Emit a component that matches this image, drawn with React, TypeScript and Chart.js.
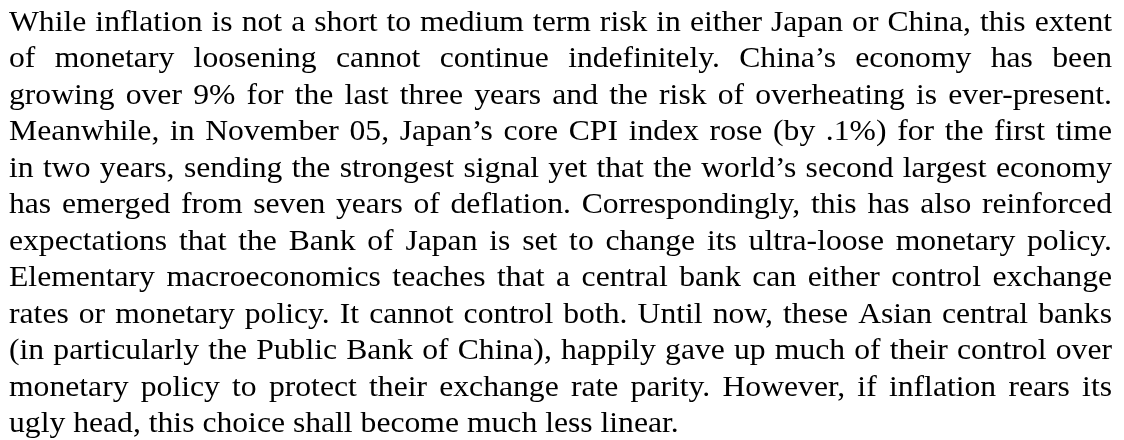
import React, { useEffect, useRef } from "react";
import { Chart, registerables } from "chart.js";

Chart.register(...registerables);

const paragraphLines: string[] = [
  "While inflation is not a short to medium term risk in either Japan or China, this extent",
  "of monetary loosening cannot continue indefinitely. China’s economy has been",
  "growing over 9% for the last three years and the risk of overheating is ever-present.",
  "Meanwhile, in November 05, Japan’s core CPI index rose (by .1%) for the first time",
  "in two years, sending the strongest signal yet that the world’s second largest economy",
  "has emerged from seven years of deflation. Correspondingly, this has also reinforced",
  "expectations that the Bank of Japan is set to change its ultra-loose monetary policy.",
  "Elementary macroeconomics teaches that a central bank can either control exchange",
  "rates or monetary policy. It cannot control both. Until now, these Asian central banks",
  "(in particularly the Public Bank of China), happily gave up much of their control over",
  "monetary policy to protect their exchange rate parity. However, if inflation rears its",
  "ugly head, this choice shall become much less linear.",
];

const W = 1124;
const H = 440;
const FONT_SIZE = 30;
const H_SCALE = 1.055;
const LEFT = 9;
const RIGHT = 1112;
const FIRST_BASELINE = 30.5;
const LINE_HEIGHT = 36.5;

const justifiedTextPlugin = {
  id: "justifiedText",
  afterDraw(chart: any) {
    const ctx: CanvasRenderingContext2D = chart.ctx;
    ctx.save();
    ctx.fillStyle = "#000000";
    ctx.font = `${FONT_SIZE}px "Liberation Serif", "Times New Roman", serif`;
    ctx.textBaseline = "alphabetic";
    ctx.textAlign = "left";
    const width = RIGHT - LEFT;
    const mw = (s: string) => ctx.measureText(s).width * H_SCALE;
    const draw = (s: string, x: number, y: number) => {
      ctx.save();
      ctx.translate(x, y);
      ctx.scale(H_SCALE, 1);
      ctx.fillText(s, 0, 0);
      ctx.restore();
    };
    paragraphLines.forEach((line, i) => {
      const y = FIRST_BASELINE + i * LINE_HEIGHT;
      const words = line.split(" ");
      const isLast = i === paragraphLines.length - 1;
      if (isLast || words.length < 2) {
        draw(line, LEFT, y);
        return;
      }
      const total = words.reduce((s, w) => s + mw(w), 0);
      const gap = (width - total) / (words.length - 1);
      let x = LEFT;
      words.forEach((w) => {
        draw(w, x, y);
        x += mw(w) + gap;
      });
    });
    ctx.restore();
  },
};

export default function App() {
  const canvasRef = useRef<HTMLCanvasElement | null>(null);

  useEffect(() => {
    document.body.style.margin = "0";
    document.body.style.background = "#ffffff";
    const canvas = canvasRef.current;
    if (!canvas) return;
    const chart = new Chart(canvas, {
      type: "scatter",
      data: { datasets: [] },
      options: {
        animation: false,
        responsive: false,
        devicePixelRatio: 1,
        layout: { padding: 0 },
        plugins: {
          legend: { display: false },
          tooltip: { enabled: false },
          title: { display: false },
        },
        scales: {
          x: { display: false },
          y: { display: false },
        },
      },
      plugins: [justifiedTextPlugin],
    });
    return () => chart.destroy();
  }, []);

  return (
    <div style={{ position: "absolute", left: 0, top: 0, width: W, height: H, background: "#fff" }}>
      <canvas ref={canvasRef} width={W} height={H} style={{ display: "block", width: W, height: H }} />
    </div>
  );
}
